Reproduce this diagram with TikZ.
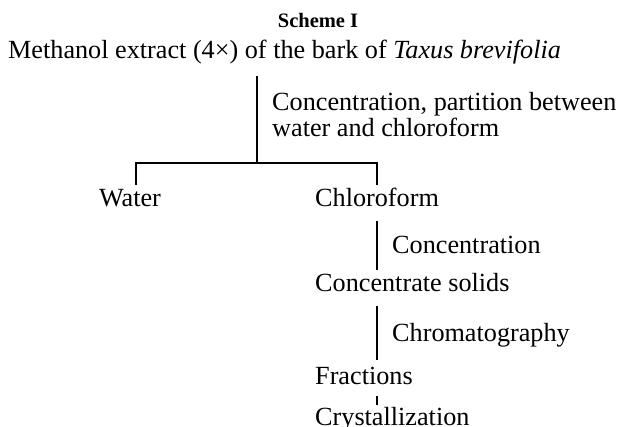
\documentclass[tikz,border=0pt]{standalone}
\usepackage{fontspec}
\setmainfont{Liberation Serif}
\begin{document}
\begin{tikzpicture}[x=1pt,y=1pt,
  lbl/.style={anchor=base west,inner sep=0pt,font=\fontsize{26.2}{30}\selectfont},
  ttl/.style={anchor=base,inner sep=0pt,font=\fontsize{20.5}{24}\selectfont\bfseries},
  ln/.style={line width=1.8pt}]
\useasboundingbox (0,0) rectangle (627,-427);
\node[ttl] (title) at (318,-28) {Scheme I};
\node[lbl] (meth) at (8,-59) {Methanol extract (4×) of the bark of \textit{Taxus brevifolia}};
\node[lbl] (step1a) at (272,-111) {Concentration, partition between};
\node[lbl] (step1b) at (272,-137) {water and chloroform};
\node[lbl,anchor=base] (water) at (130,-207) {Water};
\node[lbl] (chl) at (315,-207) {Chloroform};
\node[lbl] (step2) at (392,-254) {Concentration};
\node[lbl] (solids) at (315,-292) {Concentrate solids};
\node[lbl] (step3) at (392,-342) {Chromatography};
\node[lbl] (frac) at (315,-385) {Fractions};
\node[lbl] (cryst) at (315,-426) {Crystallization};
\coordinate (t1) at (257,-76);
\coordinate (split) at (257,-163);
\coordinate (wtop) at (136,-185);
\coordinate (ctop) at (377,-185);
\coordinate (a1) at (377,-221);
\coordinate (a2) at (377,-270);
\coordinate (b1) at (377,-306);
\coordinate (b2) at (377,-360);
\coordinate (c1) at (377,-396);
\coordinate (c2) at (377,-405);
\draw[ln] (t1) -- (split);
\draw[ln] (split) -| (wtop);
\draw[ln] (split) -| (ctop);
\draw[ln] (a1) -- (a2);
\draw[ln] (b1) -- (b2);
\draw[ln] (c1) -- (c2);
\end{tikzpicture}
\end{document}
